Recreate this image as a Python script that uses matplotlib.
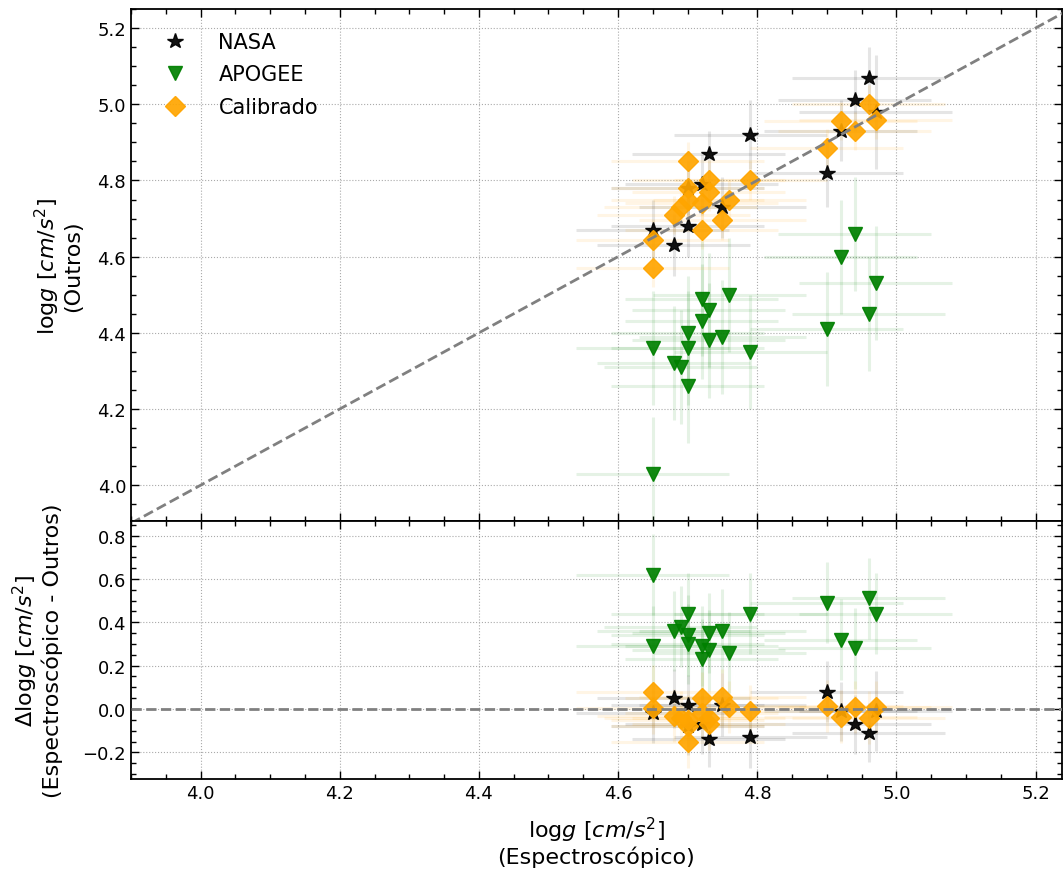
import numpy as np
import matplotlib
matplotlib.use("Agg")
import matplotlib.pyplot as plt
from matplotlib.ticker import MultipleLocator

# logg espectroscópico (shared by every comparison)
logg_spec = [4.65, 4.65, 4.68, 4.69, 4.70, 4.70, 4.70, 4.72, 4.72, 4.73,
             4.73, 4.75, 4.76, 4.79, 4.90, 4.92, 4.94, 4.96, 4.97]
err_spec = [0.11, 0.11, 0.11, 0.11, 0.11, 0.11, 0.11, 0.11, 0.11, 0.11,
            0.11, 0.12, 0.11, 0.11, 0.11, 0.11, 0.11, 0.11, 0.11]

logg_nasa = [4.67, np.nan, 4.63, np.nan, 4.68, 4.78, np.nan, 4.79, np.nan, 4.87,
             np.nan, 4.73, np.nan, 4.92, 4.82, 4.93, 5.01, 5.07, 4.98]
err_nasa = [0.08, 0.08, 0.08, 0.08, 0.08, 0.07, 0.08, 0.08, 0.08, 0.06,
            0.08, 0.08, 0.08, 0.09, 0.09, 0.08, 0.08, 0.08, 0.15]

logg_apogee = [4.03, 4.36, 4.32, 4.31, 4.26, 4.40, 4.36, 4.49, 4.43, 4.46,
               4.38, 4.39, 4.50, 4.35, 4.41, 4.60, 4.66, 4.45, 4.53]
err_apogee = [0.15, 0.15, 0.15, 0.15, 0.15, 0.15, 0.15, 0.15, 0.15, 0.15,
              0.15, 0.15, 0.15, 0.15, 0.15, 0.15, 0.15, 0.15, 0.15]

logg_cal = [4.57, 4.645, 4.71, 4.73, 4.85, 4.78, 4.75, 4.67, 4.74, 4.80,
            4.77, 4.695, 4.75, 4.80, 4.885, 4.955, 4.93, 5.00, 4.96]
err_cal = [0.05, 0.05, 0.05, 0.05, 0.05, 0.05, 0.05, 0.05, 0.05, 0.05,
           0.05, 0.05, 0.05, 0.05, 0.05, 0.05, 0.05, 0.05, 0.05]

series = [
    ("NASA", logg_nasa, err_nasa, "*", "black", 11.5),
    ("APOGEE", logg_apogee, err_apogee, "v", "green", 10.5),
    ("Calibrado", logg_cal, err_cal, "D", "orange", 10),
]

plt.rcParams["font.family"] = ["DejaVu Sans"]
plt.rcParams["mathtext.fontset"] = "dejavusans"

fig = plt.figure(figsize=(10.64, 8.79), dpi=100)
ax1 = fig.add_axes([0.1231, 0.4061, 0.8750, 0.5825])
ax2 = fig.add_axes([0.1231, 0.1126, 0.8750, 0.2935], sharex=ax1)

x = np.array(logg_spec)
xe = np.array(err_spec)

for name, y, ye, mk, col, ms in series:
    y = np.array(y)
    ye = np.array(ye)
    diff = x - y
    de = np.sqrt(xe ** 2 + ye ** 2)
    ax1.errorbar(x, y, xerr=xe, yerr=ye, fmt="none", ecolor=col,
                 elinewidth=2.2, alpha=0.1, zorder=2)
    ax2.errorbar(x, diff, xerr=xe, yerr=de, fmt="none", ecolor=col,
                 elinewidth=2.2, alpha=0.1, zorder=2)
    ax1.plot(x, y, ls="none", marker=mk, color=col, ms=ms, alpha=0.92,
             label=name, zorder=3)
    ax2.plot(x, diff, ls="none", marker=mk, color=col, ms=ms, alpha=0.92,
             zorder=3)

lims = [3.9, 5.25]
ax1.plot(lims, lims, ls="--", color="gray", lw=2, zorder=5)
ax2.axhline(0, ls="--", color="gray", lw=2, zorder=5)

ax1.set_xlim(3.9, 5.238)
ax1.set_ylim(3.906, 5.25)
ax2.set_ylim(-0.323, 0.867)

for ax in (ax1, ax2):
    ax.xaxis.set_major_locator(MultipleLocator(0.2))
    ax.xaxis.set_minor_locator(MultipleLocator(0.05))
    ax.yaxis.set_minor_locator(MultipleLocator(0.05))
    ax.tick_params(which="both", direction="in", top=True, right=True,
                   labelsize=13)
    ax.tick_params(which="major", length=6, width=1)
    ax.tick_params(which="minor", length=3.5, width=1)
    ax.grid(True, ls=":", color="#aaaaaa", lw=0.8)
    for sp in ax.spines.values():
        sp.set_linewidth(1.3)
ax1.yaxis.set_major_locator(MultipleLocator(0.2))
ax2.yaxis.set_major_locator(MultipleLocator(0.2))
ax1.tick_params(labelbottom=False)

ax1.set_ylabel("log$g$ [$cm/s^2$]\n(Outros)", fontsize=16, labelpad=10,
               linespacing=1.1)
ax2.set_ylabel("$\\Delta$log$g$ [$cm/s^2$]\n(Espectroscópico - Outros)",
               fontsize=16, labelpad=14, linespacing=1.1)
ax2.set_xlabel("log$g$ [$cm/s^2$]\n(Espectroscópico)", fontsize=16,
               labelpad=9, linespacing=1.1)

ax1.legend(loc="upper left", frameon=False, fontsize=15, handletextpad=1.1,
           labelspacing=0.6, borderaxespad=0.7)

fig.savefig("out.png", dpi=100)
